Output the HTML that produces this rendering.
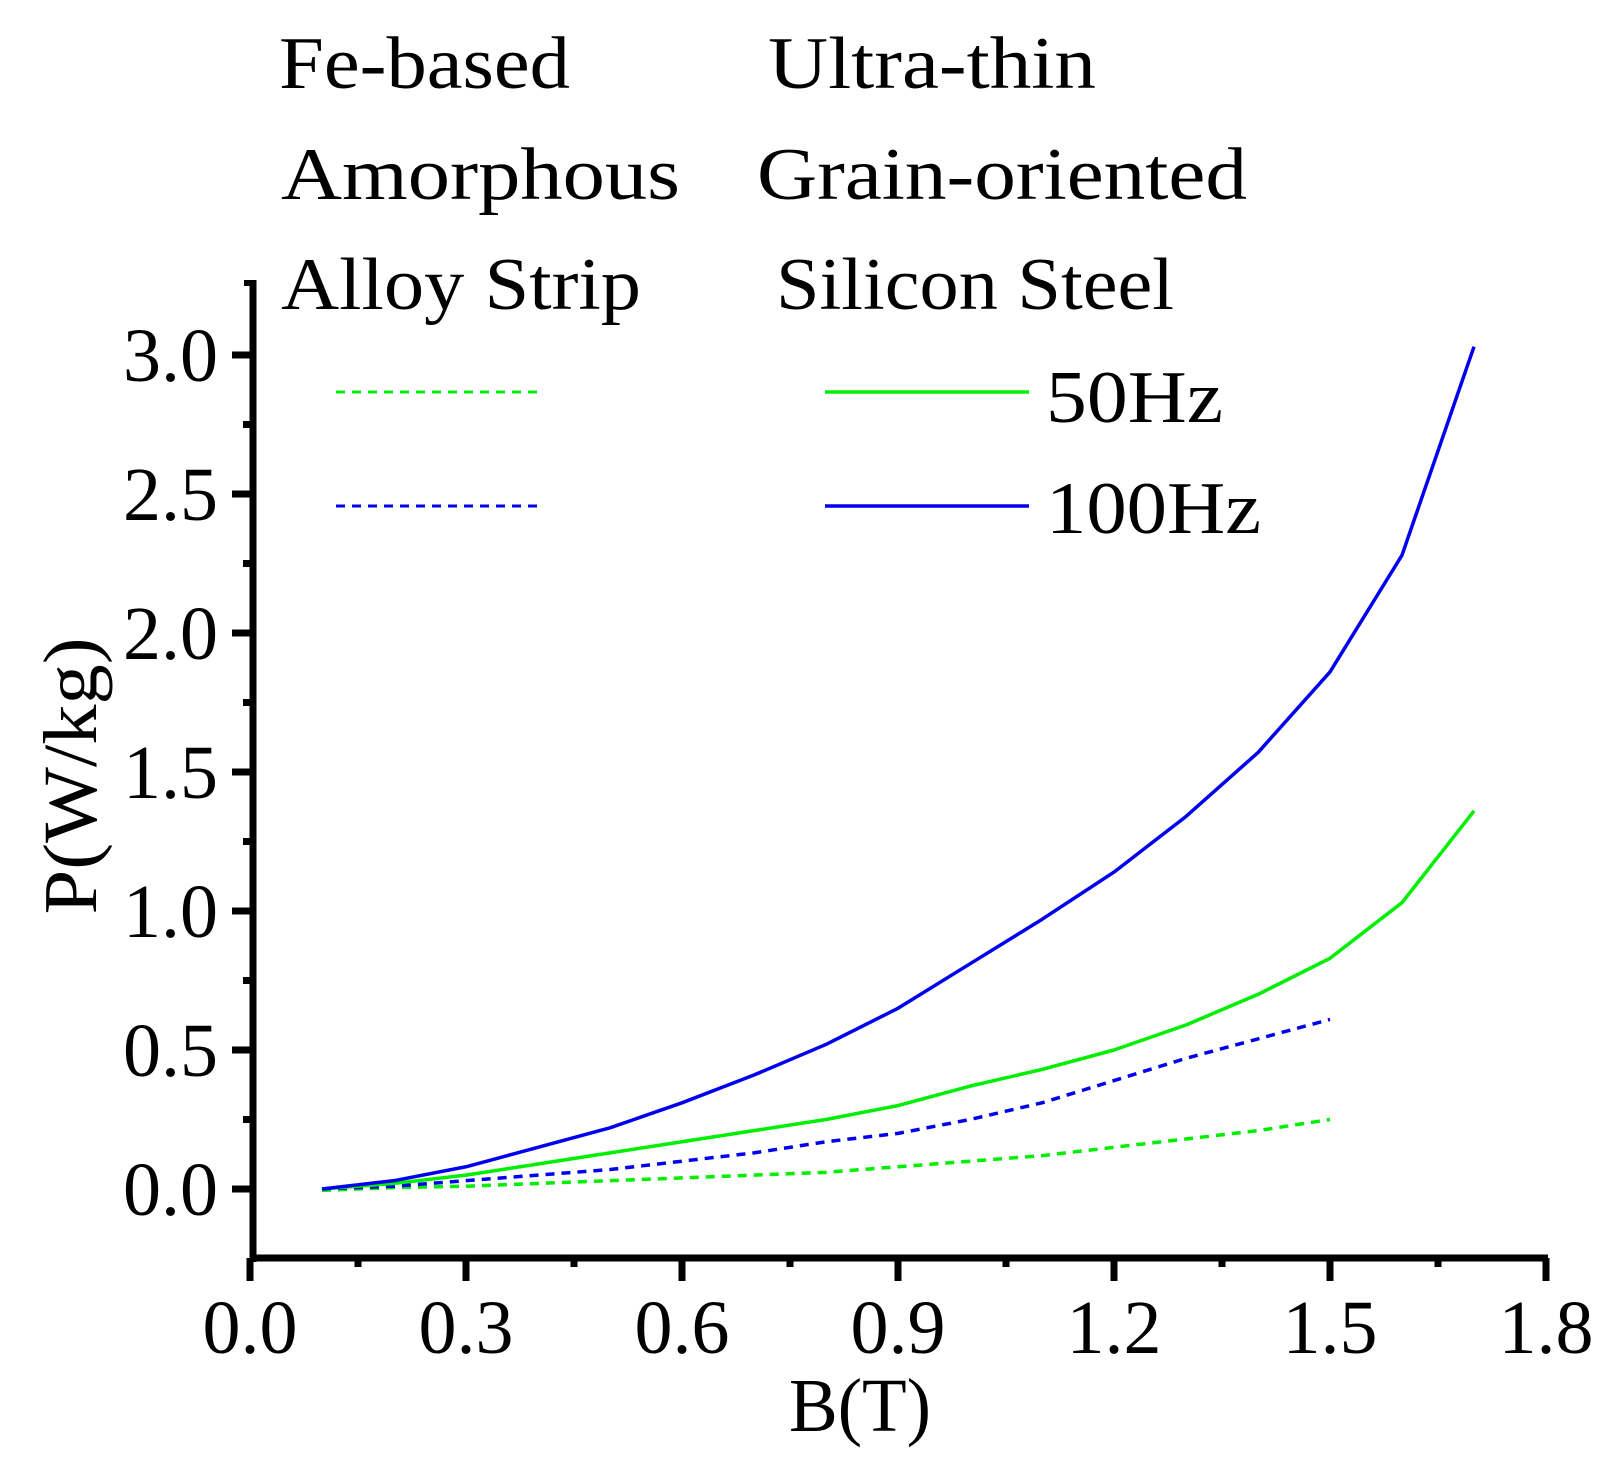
<!DOCTYPE html>
<html><head><meta charset="utf-8"><style>
html,body{margin:0;padding:0;background:#fff;}
svg{display:block;font-family:"Liberation Serif",serif;}
</style></head><body>
<svg id="chart" width="1624" height="1469" viewBox="0 0 1624 1469">
<g id="legend" font-size="74" fill="#000">
<text x="279" y="88" textLength="291" lengthAdjust="spacingAndGlyphs">Fe-based</text>
<text x="281" y="199" textLength="399" lengthAdjust="spacingAndGlyphs">Amorphous</text>
<text x="281" y="309" textLength="360" lengthAdjust="spacingAndGlyphs">Alloy Strip</text>
<text x="768" y="88" textLength="328" lengthAdjust="spacingAndGlyphs">Ultra-thin</text>
<text x="757" y="199" textLength="490" lengthAdjust="spacingAndGlyphs">Grain-oriented</text>
<text x="776" y="309" textLength="398" lengthAdjust="spacingAndGlyphs">Silicon Steel</text>
<line x1="336" y1="392" x2="541" y2="392" stroke="#00ee00" stroke-width="3" stroke-dasharray="9,7"/>
<line x1="825" y1="392" x2="1029" y2="392" stroke="#00ee00" stroke-width="3.5"/>
<text x="1046" y="422" textLength="177" lengthAdjust="spacingAndGlyphs">50Hz</text>
<line x1="336" y1="506" x2="541" y2="506" stroke="#0000ee" stroke-width="3" stroke-dasharray="9,7"/>
<line x1="825" y1="506" x2="1029" y2="506" stroke="#0000ee" stroke-width="3.5"/>
<text x="1046" y="533" textLength="215" lengthAdjust="spacingAndGlyphs">100Hz</text>
</g>
<g id="axes"></g>
<g id="series"></g>
<text x="860" y="1431" font-size="76" text-anchor="middle" textLength="142" lengthAdjust="spacingAndGlyphs">B(T)</text>
<text transform="translate(96,776) rotate(-90)" font-size="76" text-anchor="middle" textLength="277" lengthAdjust="spacingAndGlyphs">P(W/kg)</text>
</svg>
<script>
const xVals=[0.1,0.2,0.3,0.4,0.5,0.6,0.7,0.8,0.9,1.0,1.1,1.2,1.3,1.4,1.5,1.6,1.7];
const blue100Solid=[0.0,0.03,0.08,0.15,0.22,0.31,0.41,0.52,0.65,0.81,0.97,1.14,1.34,1.57,1.86,2.28,3.03];
const green50Solid=[0.0,0.02,0.05,0.09,0.13,0.17,0.21,0.25,0.30,0.37,0.43,0.50,0.59,0.70,0.83,1.03,1.36];
const xValsDashed=[0.1,0.2,0.3,0.4,0.5,0.6,0.7,0.8,0.9,1.0,1.1,1.2,1.3,1.4,1.5];
const blue100Dashed=[0.0,0.01,0.03,0.05,0.07,0.10,0.13,0.17,0.20,0.25,0.31,0.39,0.47,0.54,0.61];
const green50Dashed=[-0.005,0.005,0.01,0.02,0.03,0.04,0.05,0.06,0.08,0.10,0.12,0.15,0.18,0.21,0.25];
const xTicks=["0.0","0.3","0.6","0.9","1.2","1.5","1.8"];
const yTicks=["0.0","0.5","1.0","1.5","2.0","2.5","3.0"];
const NS="http://www.w3.org/2000/svg";
const X0=250,XS=216/0.3,Y0=1189,YS=139/0.5;
const sx=v=>X0+v*XS, sy=v=>Y0-v*YS;
const axes=document.getElementById('axes'), ser=document.getElementById('series');
function mk(tag,attrs,parent){const e=document.createElementNS(NS,tag);for(const k in attrs)e.setAttribute(k,attrs[k]);parent.appendChild(e);return e;}
let l=mk('line',{x1:253,y1:280,x2:253,y2:1262,stroke:'#000','stroke-width':7},axes);


l=mk('line',{x1:250,y1:1258,x2:1548,y2:1258,stroke:'#000','stroke-width':7},axes);


l=mk('line',{x1:244,y1:283,x2:256,y2:283,stroke:'#000','stroke-width':6},axes);


for(let i=0;i<13;i++){const v=i*0.15;const x=sx(v);const major=i%2===0;
 const t=mk('line',{x1:x,y1:1258,x2:x,y2:major?1281:1267,stroke:'#000','stroke-width':7},axes);
 
 }
xTicks.forEach(s=>{const t=mk('text',{x:sx(parseFloat(s)),y:1353,'font-size':76,'text-anchor':'middle'},axes);t.textContent=s;
 
 });
for(let i=-1;i<=12;i++){const v=i*0.25;const y=sy(v);if(y>1250)continue;const major=i%2===0&&i>=0;
 const t=mk('line',{x1:major?232:243,y1:y,x2:253,y2:y,stroke:'#000','stroke-width':7},axes);
 
 }
yTicks.forEach(s=>{const t=mk('text',{x:218,y:sy(parseFloat(s))+26,'font-size':76,'text-anchor':'end'},axes);t.textContent=s;
 
 });
function line(xs,ys,color,dash,name){const p=mk('polyline',{points:xs.map((x,i)=>sx(x)+','+sy(ys[i])).join(' '),fill:'none',stroke:color,'stroke-width':3.5,'stroke-linejoin':'round'},ser);
 if(dash)p.setAttribute('stroke-dasharray','9,7');
 
 }
line(xValsDashed,green50Dashed,'#00ee00',true,'series-amorphous-50hz');
line(xValsDashed,blue100Dashed,'#0000ee',true,'series-amorphous-100hz');
line(xVals,green50Solid,'#00ee00',false,'series-silicon-50hz');
line(xVals,blue100Solid,'#0000ee',false,'series-silicon-100hz');
</script>
</body></html>
